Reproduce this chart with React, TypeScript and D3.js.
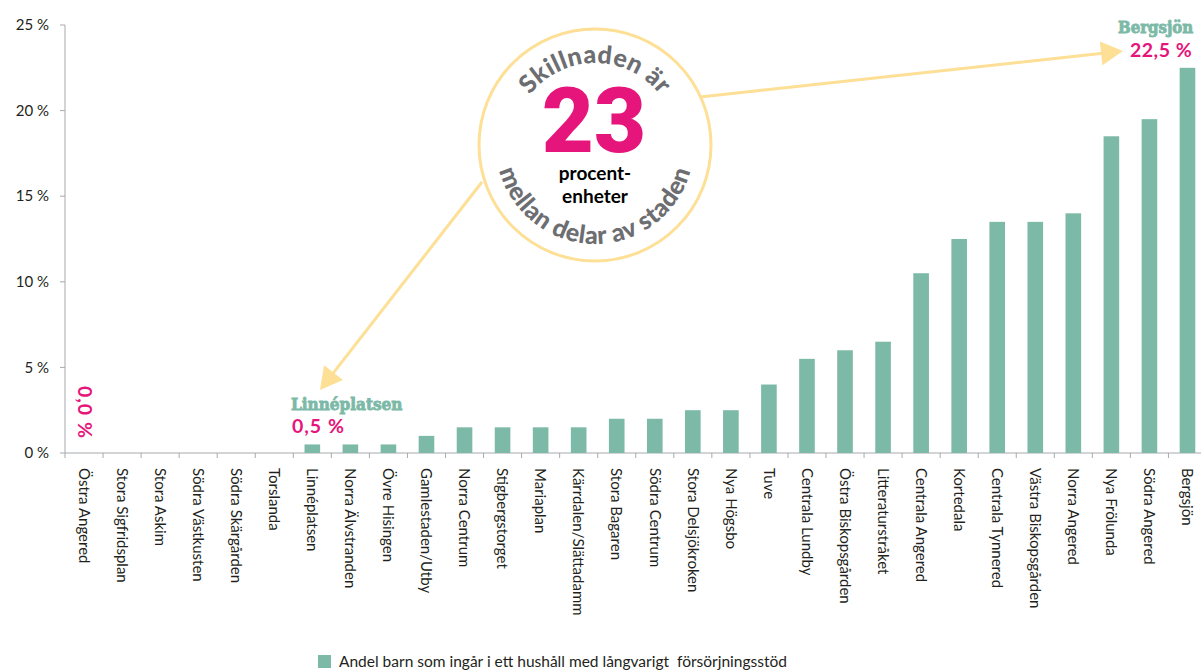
import React from "react";
import * as d3 from "d3";

const categories = [
  "Östra Angered", "Stora Sigfridsplan", "Stora Askim", "Södra Västkusten", "Södra Skärgården",
  "Torslanda", "Linnéplatsen", "Norra Älvstranden", "Övre Hisingen", "Gamlestaden/Utby",
  "Norra Centrum", "Stigbergstorget", "Mariaplan", "Kärrdalen/Slättadamm", "Stora Bagaren",
  "Södra Centrum", "Stora Delsjökroken", "Nya Högsbo", "Tuve", "Centrala Lundby",
  "Östra Biskopsgården", "Litteraturstråket", "Centrala Angered", "Kortedala", "Centrala Tynnered",
  "Västra Biskopsgården", "Norra Angered", "Nya Frölunda", "Södra Angered", "Bergsjön",
];
const values = [
  0, 0, 0, 0, 0,
  0, 0.5, 0.5, 0.5, 1.0,
  1.5, 1.5, 1.5, 1.5, 2.0,
  2.0, 2.5, 2.5, 4.0, 5.5,
  6.0, 6.5, 10.5, 12.5, 13.5,
  13.5, 14.0, 18.5, 19.5, 22.5,
];
const yTicks = [0, 5, 10, 15, 20, 25];
const legendLabel = "Andel barn som ingår i ett hushåll med långvarigt  försörjningsstöd";

const BAR = "#7cb9a7";
const MAGENTA = "#e5157b";
const GRAY = "#6d6e71";
const YELLOW = "#fddf95";
const AXIS = "#a7a9ac";
const TEXT = "#231f20";
const FONT = "Lato, 'Open Sans', sans-serif";

export default function App() {
  const x = d3.scaleBand<string>().domain(categories).range([65, 1206.5]).padding(0);
  const y = d3.scaleLinear().domain([0, 25]).range([453, 25]);
  const bw = x.bandwidth();
  const barW = bw * 0.41;

  const cx = 595, cy = 145, R = 116;
  const pt = (r: number, deg: number) => {
    const a = (deg * Math.PI) / 180;
    return [cx + r * Math.cos(a), cy - r * Math.sin(a)];
  };
  const rTop = 82;
  const [t0x, t0y] = pt(rTop, 200);
  const [t1x, t1y] = pt(rTop, -20);
  const topPath = `M${t0x},${t0y} A${rTop},${rTop} 0 1 1 ${t1x},${t1y}`;
  const rBot = 99;
  const [b0x, b0y] = pt(rBot, 160);
  const [b1x, b1y] = pt(rBot, 20);
  const botPath = `M${b0x},${b0y} A${rBot},${rBot} 0 1 0 ${b1x},${b1y}`;

  const arrowHead = (fx: number, fy: number, tx: number, ty: number, len = 22, half = 12) => {
    const dx = tx - fx, dy = ty - fy;
    const L = Math.hypot(dx, dy);
    const ux = dx / L, uy = dy / L;
    const bx = tx - ux * len, by = ty - uy * len;
    return `M${tx},${ty} L${bx - uy * half},${by + ux * half} L${bx + uy * half},${by - ux * half} Z`;
  };

  const a1 = { fx: 482, fy: 182, tx: 320, ty: 390 };
  const a2 = { fx: 700, fy: 97, tx: 1123, ty: 51 };
  const shorten = (a: any, len: number) => {
    const dx = a.tx - a.fx, dy = a.ty - a.fy;
    const L = Math.hypot(dx, dy);
    return [a.tx - (dx / L) * len, a.ty - (dy / L) * len];
  };
  const [a1ex, a1ey] = shorten(a1, 18);
  const [a2ex, a2ey] = shorten(a2, 18);

  return (
    <svg
      width={1201}
      height={670}
      style={{ position: "fixed", left: 0, top: 0, background: "#fff" }}
      fontFamily={FONT}
    >
      <rect x={0} y={0} width={1201} height={670} fill="#fff" />
      {/* y axis */}
      <line x1={65} x2={65} y1={y(25)} y2={y(0)} stroke={AXIS} strokeWidth={1} />
      {yTicks.map((t) => (
        <g key={t}>
          <line x1={60} x2={65} y1={y(t)} y2={y(t)} stroke={AXIS} />
          <text x={49} y={y(t)} dy="0.35em" textAnchor="end" fontSize={15} fill={TEXT}>
            {t + " %"}
          </text>
        </g>
      ))}
      {/* x axis */}
      <line x1={65} x2={1201} y1={y(0)} y2={y(0)} stroke={AXIS} />
      {categories.map((c) => (
        <line
          key={"t" + c}
          x1={x(c) as number}
          x2={x(c) as number}
          y1={y(0)}
          y2={y(0) + 5}
          stroke={AXIS}
        />
      ))}
      {/* bars */}
      {categories.map((c, i) => (
        <rect
          key={"b" + c}
          x={(x(c) as number) + bw / 2 - barW / 2}
          y={y(values[i])}
          width={barW}
          height={y(0) - y(values[i])}
          fill={BAR}
        />
      ))}
      {/* x labels */}
      {categories.map((c) => {
        const cxl = (x(c) as number) + bw / 2;
        return (
          <text
            key={"l" + c}
            transform={`translate(${cxl},468) rotate(90)`}
            dy="0.35em"
            fontSize={15}
            fill={TEXT}
          >
            {c}
          </text>
        );
      })}

      {/* value labels */}
      <text
        transform={`translate(${(x(categories[0]) as number) + bw / 2 - 6},386) rotate(90)`}
        fontSize={19.5}
        fontWeight={700}
        fill={MAGENTA}
        letterSpacing={1}
      >
        0,0 %
      </text>
      <g transform="translate(291,410) scale(0.9,1)">
        <text x={0} y={0} fontSize={17} fontWeight={700} fill={BAR} stroke={BAR} strokeWidth={0.9} fontFamily="'DejaVu Serif', serif">
          Linnéplatsen
        </text>
      </g>
      <text x={292} y={433} fontSize={19.5} fontWeight={700} fill={MAGENTA} letterSpacing={1}>
        0,5 %
      </text>
      <g transform="translate(1118,33) scale(0.88,1)">
        <text x={0} y={0} fontSize={17} fontWeight={700} fill={BAR} stroke={BAR} strokeWidth={0.9} fontFamily="'DejaVu Serif', serif">
          Bergsjön
        </text>
      </g>
      <text x={1130} y={57} fontSize={19.5} fontWeight={700} fill={MAGENTA} letterSpacing={0.5}>
        22,5 %
      </text>

      {/* arrows */}
      <line x1={a1.fx} y1={a1.fy} x2={a1ex} y2={a1ey} stroke={YELLOW} strokeWidth={3} />
      <path d={arrowHead(a1.fx, a1.fy, a1.tx, a1.ty)} fill={YELLOW} />
      <line x1={a2.fx} y1={a2.fy} x2={a2ex} y2={a2ey} stroke={YELLOW} strokeWidth={3} />
      <path d={arrowHead(a2.fx, a2.fy, a2.tx, a2.ty)} fill={YELLOW} />

      {/* circle */}
      <circle cx={cx} cy={cy} r={R} fill="#fff" stroke={YELLOW} strokeWidth={3} />
      <defs>
        <path id="topArc" d={topPath} />
        <path id="botArc" d={botPath} />
      </defs>
      <text fontSize={25} fontWeight={900} fill={GRAY} letterSpacing={0.5}>
        <textPath href="#topArc" startOffset="50%" textAnchor="middle">
          Skillnaden är
        </textPath>
      </text>
      <text fontSize={25} fontWeight={900} fill={GRAY} letterSpacing={0.5}>
        <textPath href="#botArc" startOffset="50%" textAnchor="middle">
          mellan delar av staden
        </textPath>
      </text>
      <text
        x={cx - 1}
        y={152}
        textAnchor="middle"
        fontSize={90}
        fontWeight={900}
        fill={MAGENTA}
        fontFamily="Roboto, sans-serif"
      >
        23
      </text>
      <text x={cx} y={180} textAnchor="middle" fontSize={19} fontWeight={700} fill="#000">
        procent-
      </text>
      <text x={cx} y={203} textAnchor="middle" fontSize={19} fontWeight={700} fill="#000">
        enheter
      </text>

      {/* legend */}
      <rect x={318} y={655} width={13} height={13} fill={BAR} />
      <text x={339} y={667} fontSize={15.5} fill={TEXT} style={{ whiteSpace: "pre" }}>
        {legendLabel}
      </text>
    </svg>
  );
}
